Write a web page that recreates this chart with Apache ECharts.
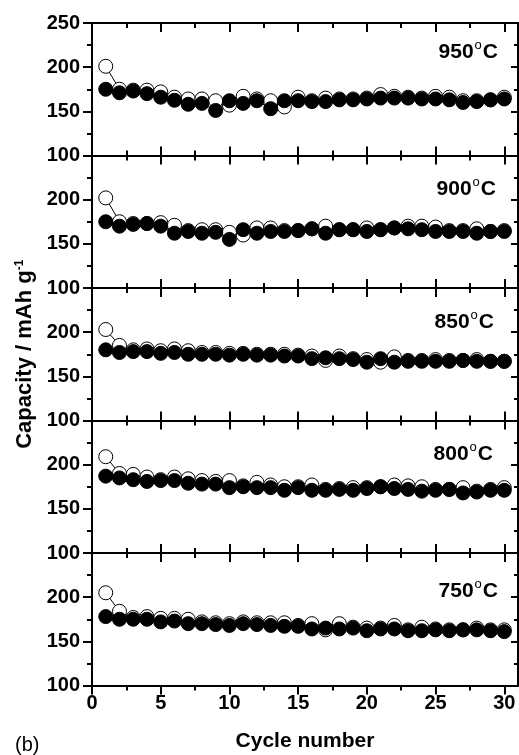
<!DOCTYPE html>
<html>
<head>
<meta charset="utf-8">
<script src="https://cdn.jsdelivr.net/npm/echarts@6/dist/echarts.min.js"></script>
<style>
  html, body { margin: 0; padding: 0; background: #fff; }
  #container { width: 519px; height: 755px; }
</style>
</head>
<body>
<div id="container"></div>
<script>
var dom = document.getElementById('container');
var myChart = echarts.init(dom, null, { renderer: 'canvas' });

// data
const cycles = [1, 2, 3, 4, 5, 6, 7, 8, 9, 10, 11, 12, 13, 14, 15,
                16, 17, 18, 19, 20, 21, 22, 23, 24, 25, 26, 27, 28, 29, 30];
const xMajorTicks = [0, 5, 10, 15, 20, 25, 30];
const xMinorTicks = [2.5, 7.5, 12.5, 17.5, 22.5, 27.5];
const temps = ['950', '900', '850', '800', '750'];

const charge950 = [201, 175, 174, 174, 172, 166, 164, 164, 162, 157, 167, 164, 162, 155, 166,
                   162, 165, 164, 164, 165, 169, 167, 166, 165, 167, 166, 162, 162, 163, 166];
const discharge950 = [175, 171, 173, 170, 166, 162.5, 158, 159, 151, 162, 159, 162, 153, 162, 162,
                      161, 161, 163, 163, 164, 165, 165, 165, 164, 164, 163, 160, 161, 163, 164];

const charge900 = [202, 175, 173, 173, 174, 171, 165, 166, 166, 163, 160, 168, 168, 165, 165,
                   167, 170, 166, 166, 168, 166, 168, 170, 170, 169, 165, 165, 167, 164, 165];
const discharge900 = [175, 170, 172, 173, 170, 162, 164, 162, 163, 155, 166, 162, 164, 164, 165,
                      167, 162, 166, 166, 164, 166, 168, 167, 166, 164, 164, 164, 162, 164, 164];

const charge850 = [203, 185, 180, 181, 179, 181, 179, 177, 177, 176, 176, 175, 175, 175, 174,
                   173, 168, 173, 170, 169, 166, 172, 168, 168, 169, 168, 168, 169, 167, 167];
const discharge850 = [180, 177, 178, 178, 176, 177, 175, 175, 175, 174, 175, 174, 174, 173, 173,
                      170, 171, 170, 169, 166, 170, 166, 167, 167, 167, 167, 168, 167, 167, 167];

const charge800 = [209, 190, 189, 186, 183, 186, 184, 182, 181, 182, 176, 180, 177, 175, 175,
                   177, 172, 173, 174, 174, 175, 177, 176, 175, 172, 172, 174, 170, 172, 174];
const discharge800 = [187, 185, 183, 181, 182, 182, 179, 178, 178, 174, 175, 174, 174, 171, 174,
                      171, 171, 172, 171, 173, 175, 173, 172, 170, 171, 172, 168, 169, 171, 171];

const charge750 = [205, 184, 177, 178, 176, 176, 175, 172, 171, 170, 172, 171, 171, 171, 168,
                   170, 163, 170, 166, 165, 165, 168, 163, 166, 164, 163, 163, 165, 163, 163];
const discharge750 = [178, 175, 175, 175, 172, 173, 170, 170, 169, 168, 170, 169, 168, 167, 167,
                      164, 165, 164, 165, 162, 164, 164, 162, 162, 163, 162, 163, 163, 162, 161];

const chargeSets = [charge950, charge900, charge850, charge800, charge750];
const dischargeSets = [discharge950, discharge900, discharge850, discharge800, discharge750];

const FONT = 'Liberation Sans, Arial, sans-serif';
const panelTops = [23, 155.5, 288, 420.5, 553];
const panelH = 132.5;
const lastPanel = 4;

function pairs(ys) {
  return cycles.map((c, k) => [c, ys[k]]);
}

var grids = [], xAxes = [], yAxes = [], series = [], graphics = [];

panelTops.forEach(function (top, i) {
  grids.push({ left: 92, width: 426, top: top, height: panelH, show: false });

  var isLast = i === lastPanel;
  var lineStyle = { color: '#000', width: 2 };

  // bottom major
  xAxes.push({
    gridIndex: i, type: 'value', position: 'bottom', min: 0, max: 31, interval: 5,
    axisLine: { show: true, onZero: false, lineStyle: lineStyle },
    axisTick: { show: true, inside: !isLast, length: 9, lineStyle: { width: 2, color: '#000' },
                customValues: xMajorTicks },
    axisLabel: { show: isLast, margin: 8, color: '#000', fontFamily: FONT, fontWeight: 'bold',
                 fontSize: 20, customValues: xMajorTicks },
    splitLine: { show: false },
    name: isLast ? 'Cycle number' : '',
    nameLocation: 'middle', nameGap: 45,
    nameTextStyle: { color: '#000', fontFamily: FONT, fontWeight: 'bold', fontSize: 21 }
  });
  // bottom minor
  xAxes.push({
    gridIndex: i, type: 'value', position: 'bottom', min: 0, max: 31, interval: 2.5,
    axisLine: { show: false },
    axisTick: { show: true, inside: !isLast, length: 5, lineStyle: { width: 2, color: '#000' },
                customValues: xMinorTicks },
    axisLabel: { show: false }, splitLine: { show: false }
  });
  // top major
  xAxes.push({
    gridIndex: i, type: 'value', position: 'top', min: 0, max: 31, interval: 5,
    axisLine: { show: true, onZero: false, lineStyle: lineStyle },
    axisTick: { show: true, inside: true, length: 9, lineStyle: { width: 2, color: '#000' },
                customValues: xMajorTicks },
    axisLabel: { show: false }, splitLine: { show: false }
  });
  // top minor
  xAxes.push({
    gridIndex: i, type: 'value', position: 'top', min: 0, max: 31, interval: 2.5,
    axisLine: { show: false },
    axisTick: { show: true, inside: true, length: 5, lineStyle: { width: 2, color: '#000' },
                customValues: xMinorTicks },
    axisLabel: { show: false }, splitLine: { show: false }
  });

  // left y
  yAxes.push({
    gridIndex: i, type: 'value', position: 'left', min: 100, max: 250, interval: 50,
    axisLine: { show: true, onZero: false, lineStyle: lineStyle },
    axisTick: { show: true, inside: false, length: 9, lineStyle: { width: 2, color: '#000' } },
    minorTick: { show: true, splitNumber: 2, length: 5, lineStyle: { width: 2, color: '#000' } },
    axisLabel: { show: true, margin: 12, color: '#000', fontFamily: FONT, fontWeight: 'bold',
                 fontSize: 20, showMaxLabel: i === 0 },
    splitLine: { show: false },
    name: i === 2 ? 'Capacity / mAh g{sup|-1}' : '',
    nameLocation: 'middle', nameGap: 52, nameRotate: 90,
    nameTextStyle: {
      color: '#000', fontFamily: FONT, fontWeight: 'bold', fontSize: 22,
      rich: { sup: { fontFamily: FONT, fontWeight: 'bold', fontSize: 12, verticalAlign: 'top', color: '#000' } }
    }
  });
  // right y
  yAxes.push({
    gridIndex: i, type: 'value', position: 'right', min: 100, max: 250, interval: 50,
    axisLine: { show: true, onZero: false, lineStyle: lineStyle },
    axisTick: { show: true, inside: true, length: 7, lineStyle: { width: 2, color: '#000' } },
    minorTick: { show: true, splitNumber: 2, length: 4, lineStyle: { width: 2, color: '#000' } },
    axisLabel: { show: false }, splitLine: { show: false }
  });

  // open circles (charge) under filled circles (discharge)
  series.push({
    name: 'charge ' + temps[i], type: 'line', xAxisIndex: i * 4, yAxisIndex: i * 2,
    data: pairs(chargeSets[i]), symbol: 'circle', symbolSize: 14, z: 2,
    lineStyle: { color: '#000', width: 1 },
    itemStyle: { color: '#fff', borderColor: '#000', borderWidth: 1 },
    emphasis: { disabled: true }, animation: false
  });
  series.push({
    name: 'discharge ' + temps[i], type: 'line', xAxisIndex: i * 4, yAxisIndex: i * 2,
    data: pairs(dischargeSets[i]), symbol: 'circle', symbolSize: 14, z: 3,
    lineStyle: { color: '#000', width: 1 },
    itemStyle: { color: '#000', borderColor: '#000', borderWidth: 1 },
    emphasis: { disabled: true }, animation: false
  });
});

// temperature labels
const labelRight = [498, 496, 494, 493, 498];
const labelMid = [52, 189, 322, 454, 591];
temps.forEach(function (t, i) {
  graphics.push({
    type: 'text', x: labelRight[i], y: labelMid[i],
    style: {
      text: '{n|' + t + '}{s|o}{n|C}',
      align: 'right', verticalAlign: 'middle',
      rich: {
        n: { fontFamily: FONT, fontWeight: 'bold', fontSize: 21, lineHeight: 26, fill: '#000',
             verticalAlign: 'middle' },
        s: { fontFamily: FONT, fontSize: 13, lineHeight: 12, fill: '#000', verticalAlign: 'top',
             padding: [0, 1, 0, 1] }
      }
    }
  });
});
graphics.push({
  type: 'text', x: 15, y: 745,
  style: { text: '(b)', fontFamily: FONT, fontSize: 20, fill: '#000', verticalAlign: 'middle' }
});

var option = {
  backgroundColor: '#fff',
  animation: false,
  grid: grids,
  xAxis: xAxes,
  yAxis: yAxes,
  series: series,
  graphic: graphics
};

if (option && typeof option === 'object') {
  myChart.setOption(option);
}

window.addEventListener('resize', myChart.resize);
</script>
</body>
</html>
